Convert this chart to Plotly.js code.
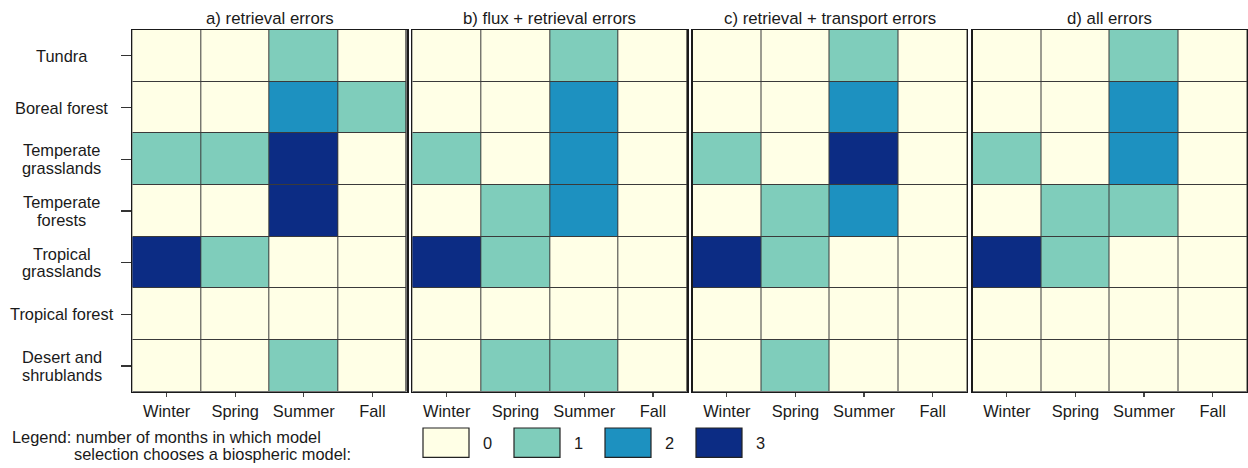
<!DOCTYPE html>
<html>
<head>
<meta charset="utf-8">
<script src="https://cdn.plot.ly/plotly-3.0.1.min.js"></script>
<style>html,body{margin:0;padding:0;background:#fff;}#chart{width:1248px;height:468px;}</style>
</head>
<body>
<div id="chart"></div>
<script>
// ---------------- DATA ----------------
const seasons = ['Winter', 'Spring', 'Summer', 'Fall'];
const biomes = ['Tundra', 'Boreal forest', 'Temperate grasslands', 'Temperate forests',
                'Tropical grasslands', 'Tropical forest', 'Desert and shrublands'];
const biomeLabelLines = [['Tundra'], ['Boreal forest'], ['Temperate', 'grasslands'], ['Temperate', 'forests'],
                         ['Tropical', 'grasslands'], ['Tropical forest'], ['Desert and', 'shrublands']];
const panelTitles = ['a) retrieval errors', 'b) flux + retrieval errors',
                     'c) retrieval + transport errors', 'd) all errors'];
// rows = biomes (top to bottom), columns = seasons
const retrievalErrors = [
  [0, 0, 1, 0],
  [0, 0, 2, 1],
  [1, 1, 3, 0],
  [0, 0, 3, 0],
  [3, 1, 0, 0],
  [0, 0, 0, 0],
  [0, 0, 1, 0]
];
const fluxRetrievalErrors = [
  [0, 0, 1, 0],
  [0, 0, 2, 0],
  [1, 0, 2, 0],
  [0, 1, 2, 0],
  [3, 1, 0, 0],
  [0, 0, 0, 0],
  [0, 1, 1, 0]
];
const retrievalTransportErrors = [
  [0, 0, 1, 0],
  [0, 0, 2, 0],
  [1, 0, 3, 0],
  [0, 1, 2, 0],
  [3, 1, 0, 0],
  [0, 0, 0, 0],
  [0, 1, 0, 0]
];
const allErrors = [
  [0, 0, 1, 0],
  [0, 0, 2, 0],
  [1, 0, 2, 0],
  [0, 1, 1, 0],
  [3, 1, 0, 0],
  [0, 0, 0, 0],
  [0, 0, 0, 0]
];
const legendValues = [0, 1, 2, 3];
const legendLine1 = 'Legend: number of months in which model';
const legendLine2 = 'selection chooses a biospheric model:';

// ---------------- STYLE ----------------
const colors = ['#ffffe6', '#7fcdbb', '#1d91c0', '#0c2c84'];
const W = 1248, H = 468;
const FONT = 'Liberation Sans, Arial, Helvetica, sans-serif';
const TXT = '#1a1a1a';
const FS = 16.4, TFS = 16.8;
const panelsPx = [[132.3, 406.7], [412.3, 687.3], [692.5, 967], [972.5, 1247]];
const topPx = 30, bottomPx = 391.7;
const px = v => v / W;
const py = v => 1 - v / H;

const panelData = [retrievalErrors, fluxRetrievalErrors, retrievalTransportErrors, allErrors];

const cs = [];
colors.forEach((c, i) => {
  cs.push([i / colors.length, c]);
  cs.push([(i + 1) / colors.length, c]);
});

const traces = panelData.map((z, i) => ({
  type: 'heatmap',
  x: seasons,
  y: biomes,
  z: z,
  zmin: -0.5,
  zmax: 3.5,
  colorscale: cs,
  showscale: false,
  xgap: 1,
  ygap: 1,
  hoverinfo: 'skip',
  xaxis: i === 0 ? 'x' : 'x' + (i + 1),
  yaxis: i === 0 ? 'y' : 'y' + (i + 1)
}));

const layout = {
  width: W, height: H,
  margin: {l: 0, r: 0, t: 0, b: 0},
  paper_bgcolor: '#ffffff',
  plot_bgcolor: '#3a3a3a',
  showlegend: false,
  font: {family: FONT, size: FS, color: TXT},
  annotations: [],
  shapes: []
};

panelsPx.forEach((p, i) => {
  const xk = i === 0 ? 'xaxis' : 'xaxis' + (i + 1);
  const yk = i === 0 ? 'yaxis' : 'yaxis' + (i + 1);
  const yid = i === 0 ? 'y' : 'y' + (i + 1);
  const xid = i === 0 ? 'x' : 'x' + (i + 1);
  layout[xk] = {
    domain: [px(p[0]), px(p[1])],
    anchor: yid,
    type: 'category',
    categoryorder: 'array', categoryarray: seasons,
    showline: true, mirror: true, linecolor: '#1a1a1a', linewidth: 1.4,
    showgrid: false, zeroline: false,
    ticks: 'outside', ticklen: 4, tickwidth: 1.2, tickcolor: '#444',
    tickfont: {family: FONT, size: FS, color: TXT},
    fixedrange: true
  };
  layout[yk] = {
    domain: [py(bottomPx), py(topPx)],
    anchor: xid,
    type: 'category',
    categoryorder: 'array', categoryarray: biomes,
    autorange: 'reversed',
    showline: true, mirror: true, linecolor: '#1a1a1a', linewidth: i === 0 ? 1.8 : 1.4,
    showgrid: false, zeroline: false,
    ticks: i === 0 ? 'outside' : '', ticklen: 10, tickwidth: 1.3, tickcolor: '#333',
    showticklabels: false,
    fixedrange: true
  };
  layout.annotations.push({
    xref: 'paper', yref: 'paper',
    x: px((p[0] + p[1]) / 2), y: py(19),
    xanchor: 'center', yanchor: 'middle',
    text: panelTitles[i], showarrow: false,
    font: {family: FONT, size: TFS, color: TXT}
  });
});

// y labels (centered, multi-line)
const lineGap = 17.5;
biomes.forEach((b, i) => {
  const lines = biomeLabelLines[i];
  lines.forEach((ln, j) => {
    const shift = ((lines.length - 1) / 2 - j) * lineGap;
    layout.annotations.push({
      xref: 'paper', yref: 'y',
      x: px(62), y: b,
      xanchor: 'center', yanchor: 'middle',
      yshift: shift,
      text: ln, showarrow: false,
      font: {family: FONT, size: FS, color: TXT}
    });
  });
});

// legend text
layout.annotations.push({
  xref: 'paper', yref: 'paper', x: px(10), y: py(437),
  xanchor: 'left', yanchor: 'middle', text: legendLine1, showarrow: false,
  font: {family: FONT, size: FS, color: TXT}
});
layout.annotations.push({
  xref: 'paper', yref: 'paper', x: px(72), y: py(453.5),
  xanchor: 'left', yanchor: 'middle', text: legendLine2, showarrow: false,
  font: {family: FONT, size: FS, color: TXT}
});

// legend boxes
const boxStart = 423, boxStep = 91, boxW = 46, boxTop = 428, boxBot = 457.3;
legendValues.forEach((v, i) => {
  const x0 = boxStart + i * boxStep;
  layout.shapes.push({
    type: 'rect', xref: 'paper', yref: 'paper',
    x0: px(x0), x1: px(x0 + boxW), y0: py(boxBot), y1: py(boxTop),
    fillcolor: colors[v], line: {color: '#222', width: 1.2}
  });
  layout.annotations.push({
    xref: 'paper', yref: 'paper', x: px(x0 + boxW + 12), y: py((boxTop + boxBot) / 2),
    xanchor: 'left', yanchor: 'middle', text: String(v), showarrow: false,
    font: {family: FONT, size: FS, color: TXT}
  });
});

Plotly.newPlot('chart', traces, layout, {displayModeBar: false, staticPlot: true});
</script>
</body>
</html>
